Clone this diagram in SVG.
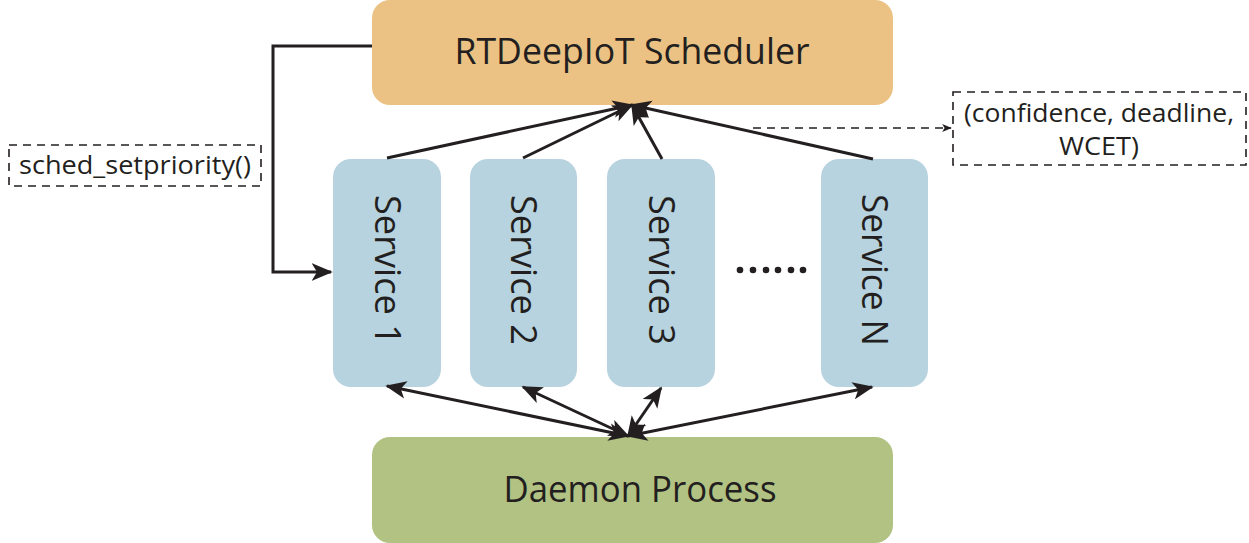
<svg xmlns="http://www.w3.org/2000/svg" width="1249" height="543" viewBox="0 0 1249 543">
  <style>
    .lbl { font-family: "Open Sans", "Liberation Sans", sans-serif; fill: #231f20; }
    .big { font-size: 36px; }
    .small { font-size: 25px; }
    .conn { stroke: #231f20; stroke-width: 3; fill: none; }
    .dash { stroke: #231f20; stroke-width: 1.6; fill: none; stroke-dasharray: 8 6; }
  </style>
  <defs>
    <marker id="ah" viewBox="0 0 12 10" refX="11" refY="5" markerWidth="7" markerHeight="6" orient="auto-start-reverse" markerUnits="strokeWidth">
      <path d="M0,0 L12,5 L0,10 L3,5 z" fill="#231f20"/>
    </marker>
    <marker id="ahs" viewBox="0 0 12 10" refX="11" refY="5" markerWidth="6" markerHeight="5" orient="auto" markerUnits="strokeWidth">
      <path d="M0,0 L12,5 L0,10 L3,5 z" fill="#231f20"/>
    </marker>
  </defs>

  <g id="scheduler">
    <rect x="372" y="0" width="521" height="105" rx="18" fill="#ebc283"/>
    <text class="lbl big" x="632" y="64" text-anchor="middle" textLength="355" lengthAdjust="spacingAndGlyphs">RTDeepIoT Scheduler</text>
  </g>

  <g id="service1">
    <rect x="333" y="159" width="108" height="228" rx="18" fill="#b7d3df"/>
    <text class="lbl big" transform="translate(387,270) rotate(90)" text-anchor="middle" dy="12" textLength="150" lengthAdjust="spacingAndGlyphs">Service 1</text>
  </g>
  <g id="service2">
    <rect x="470" y="159" width="107" height="228" rx="18" fill="#b7d3df"/>
    <text class="lbl big" transform="translate(523,270) rotate(90)" text-anchor="middle" dy="12" textLength="150" lengthAdjust="spacingAndGlyphs">Service 2</text>
  </g>
  <g id="service3">
    <rect x="607" y="159" width="108" height="228" rx="18" fill="#b7d3df"/>
    <text class="lbl big" transform="translate(661,270) rotate(90)" text-anchor="middle" dy="12" textLength="150" lengthAdjust="spacingAndGlyphs">Service 3</text>
  </g>
  <g id="serviceN">
    <rect x="821" y="159" width="107" height="228" rx="18" fill="#b7d3df"/>
    <text class="lbl big" transform="translate(874,270) rotate(90)" text-anchor="middle" dy="12" textLength="152" lengthAdjust="spacingAndGlyphs">Service N</text>
  </g>

  <g id="ellipsis" fill="#231f20">
    <circle cx="740" cy="270" r="3.3"/>
    <circle cx="753" cy="270" r="3.3"/>
    <circle cx="766" cy="270" r="3.3"/>
    <circle cx="778" cy="270" r="3.3"/>
    <circle cx="791" cy="270" r="3.3"/>
    <circle cx="803" cy="270" r="3.3"/>
  </g>

  <g id="daemon">
    <rect x="372" y="437" width="521" height="106" rx="18" fill="#b1c283"/>
    <text class="lbl big" x="640" y="502" text-anchor="middle" textLength="273" lengthAdjust="spacingAndGlyphs">Daemon Process</text>
  </g>

  <g id="setpriority-label">
    <rect x="9" y="145" width="252" height="41" class="dash"/>
    <text class="lbl small" x="135" y="174" text-anchor="middle" textLength="232" lengthAdjust="spacingAndGlyphs">sched_setpriority()</text>
  </g>

  <g id="params-label">
    <rect x="953" y="92" width="293" height="73" class="dash"/>
    <text class="lbl small" x="1099" y="122" text-anchor="middle" textLength="270" lengthAdjust="spacingAndGlyphs">(confidence, deadline,</text>
    <text class="lbl small" x="1099" y="155" text-anchor="middle" textLength="80" lengthAdjust="spacingAndGlyphs">WCET)</text>
  </g>

  <g id="connectors">
    <!-- services report to the scheduler -->
    <line class="conn" x1="387" y1="158" x2="632" y2="105" marker-end="url(#ah)"/>
    <line class="conn" x1="523" y1="158" x2="632" y2="105" marker-end="url(#ah)"/>
    <line class="conn" x1="662" y1="159" x2="632" y2="105" marker-end="url(#ah)"/>
    <line class="conn" x1="873" y1="159" x2="632" y2="105" marker-end="url(#ah)"/>
    <!-- scheduler sets service priority -->
    <polyline class="conn" points="372,46 273,46 273,272 331,272" stroke-width="2.4" marker-end="url(#ah)"/>
    <!-- parameters passed along the report path -->
    <line class="dash" x1="753" y1="128" x2="951" y2="128" marker-end="url(#ahs)"/>
    <!-- daemon exchanges with each service -->
    <line class="conn" x1="628" y1="436" x2="387" y2="386" marker-start="url(#ah)" marker-end="url(#ah)"/>
    <line class="conn" x1="628" y1="436" x2="523" y2="387" marker-start="url(#ah)" marker-end="url(#ah)"/>
    <line class="conn" x1="628" y1="436" x2="661" y2="388" marker-start="url(#ah)" marker-end="url(#ah)"/>
    <line class="conn" x1="628" y1="436" x2="872" y2="387" marker-start="url(#ah)" marker-end="url(#ah)"/>
  </g>
</svg>
